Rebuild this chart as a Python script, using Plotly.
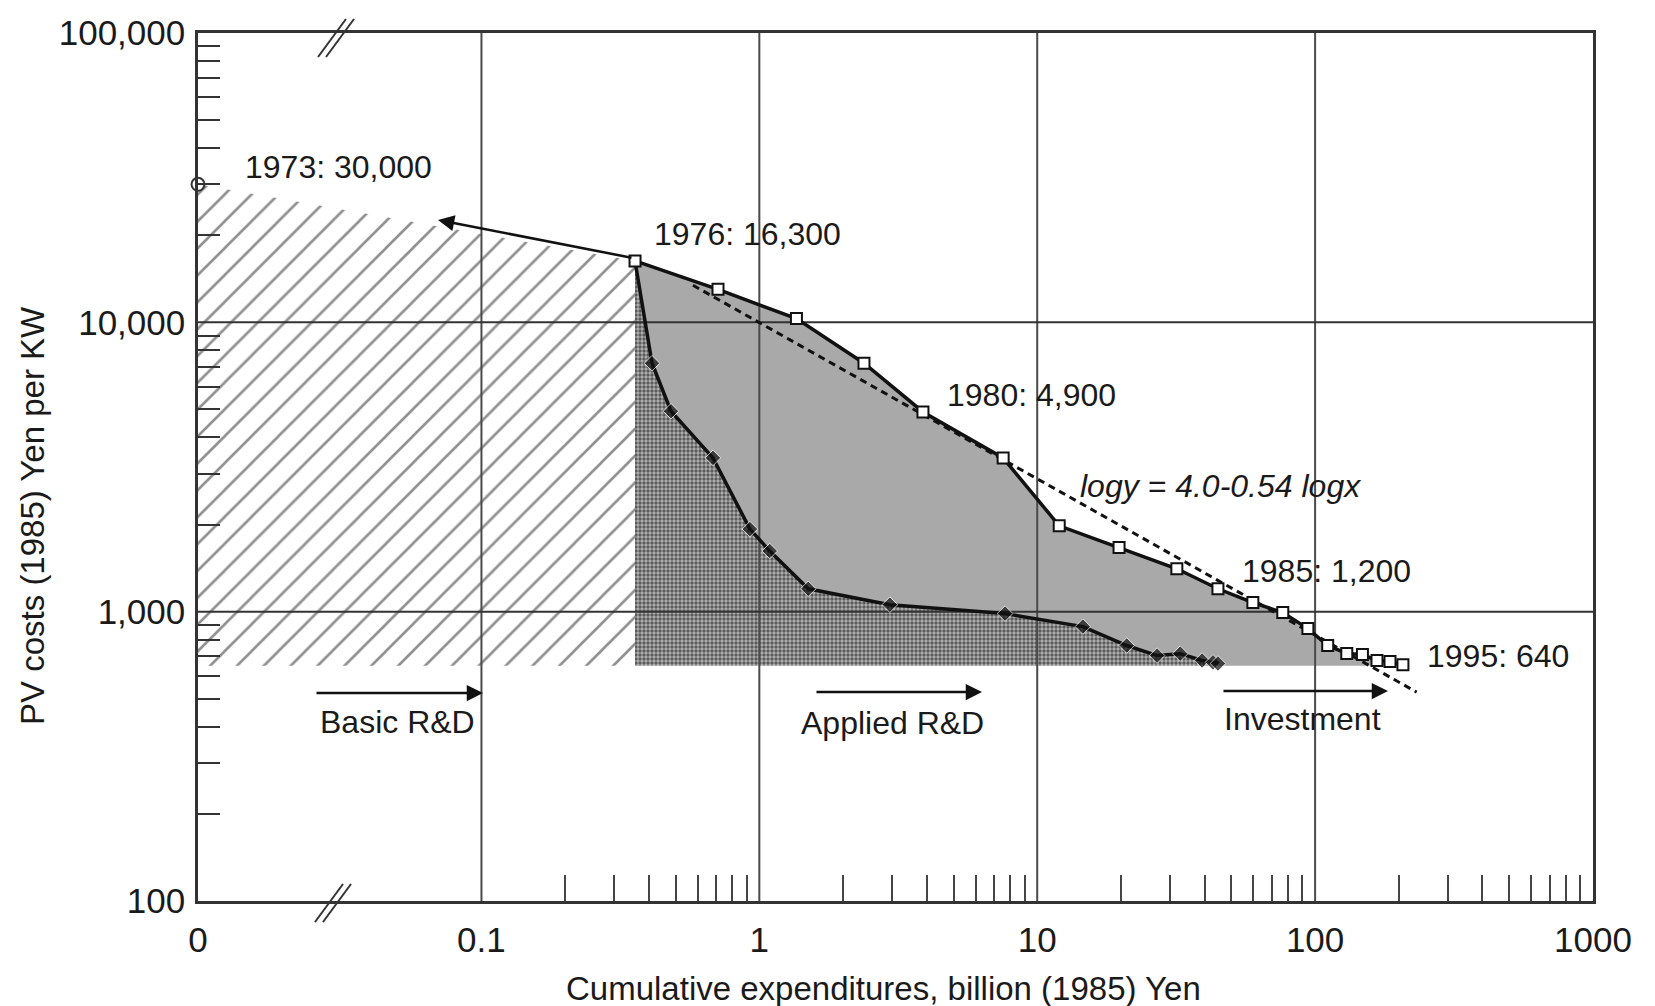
import numpy as np
import plotly.graph_objects as go

# ---------------- data ----------------
# x axis is broken: the "0" tick sits at this position on the log axis
X_ZERO = 10 ** -2.02

COST_1973 = 30000          # 1973: 30,000 Yen/kW at zero cumulative expenditure

# PV cost (upper curve, open squares)
UPPER_X = [0.357, 0.710, 1.36, 2.38, 3.88, 7.54, 12.0, 19.7, 31.8, 44.7,
           59.7, 76.5, 94.2, 111, 130, 148, 167, 186, 207]
UPPER_Y = [16300, 13000, 10300, 7220, 4900, 3400, 1980, 1665, 1407, 1200,
           1075, 993, 874, 764, 717, 711, 678, 673, 655]

# lower curve (filled diamonds), starts at the 1976 point
LOWER_X = [0.357, 0.411, 0.481, 0.681, 0.925, 1.09, 1.50, 2.95, 7.66, 14.6,
           21.0, 27.0, 32.7, 39.2, 42.9, 44.7]
LOWER_Y = [16300, 7220, 4930, 3400, 1930, 1620, 1200, 1057, 985, 888,
           764, 705, 716, 678, 668, 662]

FILL_BASE = 650            # lower edge of shaded areas

# regression line logy = 4.0 - 0.54 logx (end points)
FIT_X = [0.577, 232]
FIT_Y = [13430, 527]

GRID_X = [0.1, 1, 10, 100]
GRID_Y = [1000, 10000]

X_TICKVALS = [X_ZERO, 0.1, 1, 10, 100, 1000]
X_TICKTEXT = ["0", "0.1", "1", "10", "100", "1000"]
Y_TICKVALS = [100, 1000, 10000, 100000]
Y_TICKTEXT = ["100", "1,000", "10,000", "100,000"]

LABELS = ["1973: 30,000", "1976: 16,300", "1980: 4,900", "<i>logy = 4.0-0.54 logx</i>",
          "1985: 1,200", "1995: 640"]
PHASES = ["Basic R&D", "Applied R&D", "Investment"]

# ---------------- layout geometry helpers ----------------
W, H = 1655, 1006
PL, PR, PT, PB = 198, 1593, 33, 901  # plot box in page pixels


def px2paper(px, py):
    return (px - PL) / (PR - PL), (PB - py) / (PB - PT)


FONT = "Arial, Liberation Sans, sans-serif"
INK = "#1a1a1a"

fig = go.Figure()

# hatched area (basic R&D)
fig.add_trace(go.Scatter(
    x=[X_ZERO, UPPER_X[0], UPPER_X[0], X_ZERO],
    y=[COST_1973, UPPER_Y[0], FILL_BASE, FILL_BASE],
    mode="lines", line=dict(width=0), fill="toself", fillcolor="rgba(0,0,0,0)",
    fillpattern=dict(shape="/", size=19, solidity=0.14, fgcolor="#222222", bgcolor="white"),
    hoverinfo="skip"))

# gray area between the curves
gx = UPPER_X + [UPPER_X[-1], LOWER_X[-1]] + LOWER_X[::-1]
gy = UPPER_Y + [FILL_BASE, FILL_BASE] + LOWER_Y[::-1]
fig.add_trace(go.Scatter(x=gx, y=gy, mode="lines", line=dict(width=0),
                         fill="toself", fillcolor="#a9a9a9", hoverinfo="skip"))

# cross-hatched area under the lower curve
cx = LOWER_X + [LOWER_X[-1], LOWER_X[0]]
cy = LOWER_Y + [FILL_BASE, FILL_BASE]
fig.add_trace(go.Scatter(
    x=cx, y=cy, mode="lines", line=dict(width=0), fill="toself", fillcolor="rgba(0,0,0,0)",
    fillpattern=dict(shape=".", size=4, solidity=0.55, fgcolor="#000000", bgcolor="#b4b4b4"),
    hoverinfo="skip"))

# grid lines (drawn above the fills)
for gxv in GRID_X:
    fig.add_trace(go.Scatter(x=[gxv, gxv], y=[Y_TICKVALS[0], Y_TICKVALS[-1]], mode="lines",
                             line=dict(color="#4a4a4a", width=2), hoverinfo="skip"))
for gyv in GRID_Y:
    fig.add_trace(go.Scatter(x=[X_ZERO, X_TICKVALS[-1]], y=[gyv, gyv], mode="lines",
                             line=dict(color="#333333", width=2), hoverinfo="skip"))

# regression line
fig.add_trace(go.Scatter(x=FIT_X, y=FIT_Y, mode="lines",
                         line=dict(color="#111111", width=3, dash="7px,5px"), hoverinfo="skip"))

# lower curve with diamonds
fig.add_trace(go.Scatter(
    x=LOWER_X, y=LOWER_Y, mode="lines+markers",
    line=dict(color="#111111", width=3.5),
    marker=dict(symbol="diamond", size=[0] + [12] * (len(LOWER_X) - 1), color="#111111"),
    hoverinfo="skip"))

# upper curve with open squares
fig.add_trace(go.Scatter(
    x=UPPER_X, y=UPPER_Y, mode="lines+markers",
    line=dict(color="#111111", width=3.5),
    marker=dict(symbol="square", size=11, color="white", line=dict(color="#111111", width=2)),
    hoverinfo="skip"))

# 1973 point
fig.add_trace(go.Scatter(
    x=[X_ZERO], y=[COST_1973], mode="markers", cliponaxis=False,
    marker=dict(symbol="circle", size=13, color="white", line=dict(color="#333333", width=2)),
    hoverinfo="skip"))

annotations = []

def text_at(txt, px, py, anchor="left", size=32):
    x, y = px2paper(px, py)
    annotations.append(dict(text=txt, x=x, y=y, xref="paper", yref="paper",
                            xanchor=anchor, yanchor="middle", showarrow=False,
                            font=dict(family=FONT, size=size, color=INK)))

text_at(LABELS[0], 243, 167)
text_at(LABELS[1], 652, 234)
text_at(LABELS[2], 945, 395)
text_at(LABELS[3], 1078, 486)
text_at(LABELS[4], 1240, 571)
text_at(LABELS[5], 1425, 656)

text_at(PHASES[0], 397, 722, "center")
text_at(PHASES[1], 892, 723, "center")
text_at(PHASES[2], 1302, 719, "center")


def arrow(tip_px, tip_py, tail_px, tail_py):
    x, y = px2paper(tip_px, tip_py)
    annotations.append(dict(text="", x=x, y=y, xref="paper", yref="paper",
                            ax=tail_px - tip_px, ay=tail_py - tip_py, axref="pixel", ayref="pixel",
                            showarrow=True, arrowhead=2, arrowsize=1.3, arrowwidth=2.5,
                            arrowcolor="#111111", standoff=0, startstandoff=0))

arrow(483, 693, 315, 693)
arrow(982, 692, 815, 692)
arrow(1388, 691, 1222, 691)
arrow(438, 220, 633, 258)

# axis titles
tx, ty = px2paper(883, 988)
annotations.append(dict(text="Cumulative expenditures, billion (1985) Yen", x=tx, y=ty,
                        xref="paper", yref="paper", xanchor="center", yanchor="middle",
                        showarrow=False, font=dict(family=FONT, size=33, color=INK)))
tx, ty = px2paper(32, 516)
annotations.append(dict(text="PV costs (1985) Yen per KW", x=tx, y=ty, textangle=-90,
                        xref="paper", yref="paper", xanchor="center", yanchor="middle",
                        showarrow=False, font=dict(family=FONT, size=33, color=INK)))

# axis break marks
shapes = []
for (cx0, cy0) in [(336, 38), (333, 903)]:
    for dx in (-4, 4):
        x0, y0 = px2paper(cx0 + dx - 14, cy0 + 19)
        x1, y1 = px2paper(cx0 + dx + 14, cy0 - 19)
        shapes.append(dict(type="line", xref="paper", yref="paper", x0=x0, y0=y0, x1=x1, y1=y1,
                           line=dict(color="#333333", width=2)))

x_minor = [m * 10 ** e for e in (-1, 0, 1, 2) for m in range(2, 10)]
y_minor = [m * 10 ** e for e in (2, 3, 4) for m in range(2, 10)]

fig.update_layout(
    width=W, height=H,
    margin=dict(l=PL, r=W - PR, t=PT, b=H - PB, pad=0, autoexpand=False),
    paper_bgcolor="white", plot_bgcolor="white",
    showlegend=False,
    annotations=annotations, shapes=shapes,
    font=dict(family=FONT, color=INK),
    xaxis=dict(type="log", range=[np.log10(X_ZERO), 3], showgrid=False, zeroline=False,
               automargin=False,
               tickmode="array", tickvals=X_TICKVALS, ticktext=X_TICKTEXT, ticks="",
               tickfont=dict(family=FONT, size=35, color=INK), ticklabelstandoff=6,
               showline=True, linecolor="#333333", linewidth=2.5, mirror=True,
               minor=dict(tickmode="array", tickvals=x_minor, ticks="inside", ticklen=26,
                          tickwidth=2, tickcolor="#444444", showgrid=False)),
    yaxis=dict(type="log", range=[2, 5], showgrid=False, zeroline=False,
               automargin=False,
               tickmode="array", tickvals=Y_TICKVALS, ticktext=Y_TICKTEXT, ticks="",
               tickfont=dict(family=FONT, size=35, color=INK), ticklabelstandoff=3,
               showline=True, linecolor="#333333", linewidth=2.5, mirror=True,
               minor=dict(tickmode="array", tickvals=y_minor, ticks="inside", ticklen=22,
                          tickwidth=2, tickcolor="#333333", showgrid=False)),
)

fig.write_html("out.html", config={"displayModeBar": False},
               post_script="document.body.style.margin='0';document.body.style.overflow='hidden';")
